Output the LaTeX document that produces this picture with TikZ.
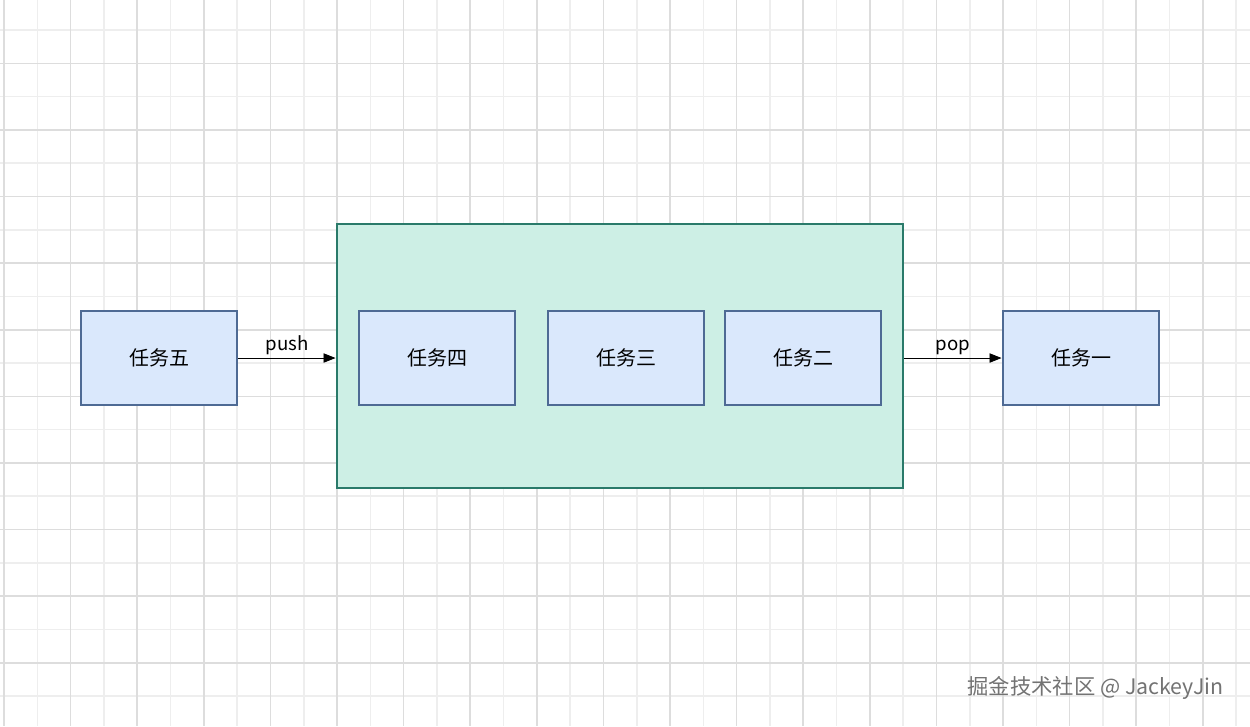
\documentclass[tikz,border=0pt]{standalone}
\usepackage{fontspec}
\setmainfont{Noto Sans CJK SC}
\usetikzlibrary{arrows.meta}
\definecolor{minorg}{HTML}{EEEEEE}
\definecolor{majorg}{HTML}{DDDDDD}
\definecolor{taskfill}{HTML}{DAE8FC}
\definecolor{taskdraw}{HTML}{4E6A94}
\definecolor{contfill}{HTML}{CDEFE5}
\definecolor{contdraw}{HTML}{2A7A6A}
\begin{document}
\begin{tikzpicture}[x=0.75pt,y=-0.75pt,
  task/.style={draw=taskdraw,fill=taskfill,line width=2.2pt,minimum width=156*0.75pt,minimum height=94*0.75pt,font=\fontsize{15}{18}\selectfont,inner sep=0pt},
  conn/.style={-{Triangle[length=9pt,width=7pt]},line width=0.6pt},
  lbl/.style={font=\fontsize{14}{16}\selectfont}]
\useasboundingbox (0,0) rectangle (1250,726);
\fill[white] (0,0) rectangle (1250,726);
\foreach \i in {0,...,37} {\draw[minorg,line width=1.2pt] ({4+33.3*\i},0) -- ({4+33.3*\i},726);}
\foreach \i in {0,...,22} {\draw[minorg,line width=1.2pt] (0,{30+33.3*(\i-1)}) -- (1250,{30+33.3*(\i-1)});}
\foreach \i in {-1,...,18} {\draw[majorg,line width=1.2pt] ({70.6+66.6*\i},0) -- ({70.6+66.6*\i},726);}
\foreach \i in {-1,...,11} {\draw[majorg,line width=1.2pt] (0,{63.3+66.6*\i}) -- (1250,{63.3+66.6*\i});}
\node[draw=contdraw,fill=contfill,line width=2.2pt,minimum width=566*0.75pt,minimum height=264*0.75pt,inner sep=0pt] (q) at (620,356) {};
\node[task] (t5) at (159,358) {任务五};
\node[task] (t4) at (437,358) {任务四};
\node[task] (t3) at (626,358) {任务三};
\node[task] (t2) at (803,358) {任务二};
\node[task] (t1) at (1081,358) {任务一};
\draw[conn] (t5.east) -- node[lbl,above,yshift=-1pt]{push} (q.west |- t5.east);
\draw[conn] (q.east |- t1.west) -- node[lbl,above,yshift=-1pt]{pop} (t1.west);
\node[font=\fontsize{16}{18}\selectfont,text=black!55,anchor=east] (wm) at (1228,688) {掘金技术社区 @ JackeyJin};
\end{tikzpicture}
\end{document}
